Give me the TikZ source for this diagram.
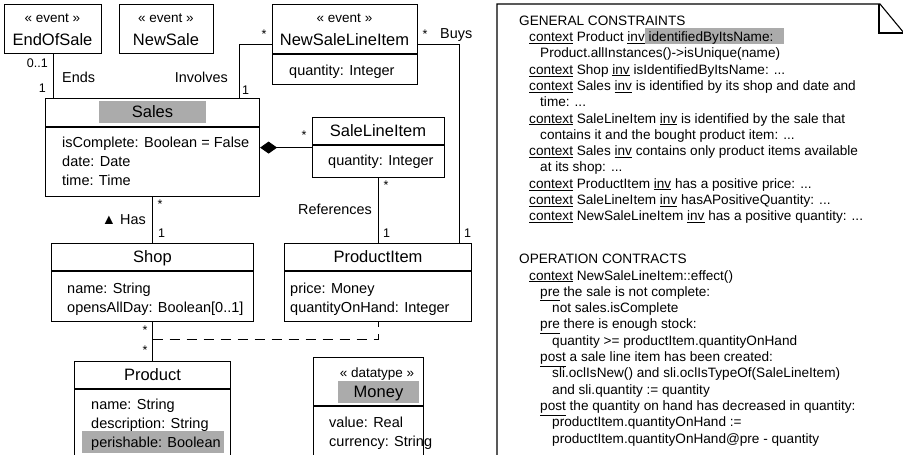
\documentclass[tikz,border=0pt]{standalone}
\usepackage{fontspec}
\setmainfont{Liberation Sans}
\usetikzlibrary{positioning, arrows.meta, calc}
\definecolor{hlgray}{gray}{0.67}
\newcommand{\greyhl}[1]{{\setlength{\fboxsep}{0pt}\colorbox{hlgray}{\rule[-1.5pt]{0pt}{15pt}#1}}}

\begin{document}
\begin{tikzpicture}[
        x=1pt, y=-1pt,
        box/.style={draw, line width=1.1pt, inner sep=0pt},
        cname/.style={inner sep=0pt, text height=11.8pt, text depth=0pt, font=\fontsize{16.5}{18}\selectfont},
        stereo/.style={inner sep=0pt, text height=9.7pt, text depth=0pt, font=\fontsize{13.5}{15}\selectfont},
        hilite/.style={fill=hlgray},
        attrs/.style={inner sep=0pt, anchor=north west, align=left, font=\fontsize{14.5}{18.8}\selectfont},
        lbl/.style={inner sep=0pt, text height=10.3pt, text depth=0pt, font=\fontsize{14.4}{16}\selectfont},
        mult/.style={inner sep=0pt, text height=8.9pt, text depth=0pt, font=\fontsize{12.5}{14}\selectfont},
        assoc/.style={line width=1pt},
        notetext/.style={inner sep=0pt, anchor=north west, align=left, font=\fontsize{13.6}{16.3}\selectfont}
    ]
        \useasboundingbox (0,0) rectangle (903,455);
        \clip (0,0) rectangle (903,455);

        % Events
        \node (endOfSale) [box, minimum width=97pt, minimum height=49pt, anchor=north west] at (4,4) {};
        \node (endOfSaleSt) [stereo] at (52.5,18) {« event »};
        \node (endOfSaleName) [cname] at (52.5,40) {EndOfSale};

        \node (newSale) [box, minimum width=94pt, minimum height=49pt, anchor=north west] at (119,4) {};
        \node (newSaleSt) [stereo] at (166,18) {« event »};
        \node (newSaleName) [cname] at (166,40) {NewSale};

        \node (newLineHead) [box, minimum width=145pt, minimum height=49pt, anchor=north west] at (272,4) {};
        \node (newLineBody) [box, minimum width=145pt, minimum height=30pt, below=0pt of newLineHead] {};
        \node (newLineSt) [stereo] at (344.5,18) {« event »};
        \node (newLineName) [cname] at (344.5,40) {NewSaleLineItem};
        \node (newLineAttrs) [attrs] at (289,64.8) {quantity: Integer};

        % Classes
        \node (salesHead) [box, minimum width=214pt, minimum height=28pt, anchor=north west] at (45,98) {};
        \node (salesBody) [box, minimum width=214pt, minimum height=69pt, below=0pt of salesHead] {};
        \node (salesName) [cname, hilite, minimum width=107pt, minimum height=22pt] at (152.5,111.5) {Sales};
        \node (salesAttrs) [attrs] at (62,136.8) {isComplete: Boolean = False\\date: Date\\time: Time};

        \node (saleLineHead) [box, minimum width=132pt, minimum height=27pt, anchor=north west] at (312,117) {};
        \node (saleLineBody) [box, minimum width=132pt, minimum height=32pt, below=0pt of saleLineHead] {};
        \node (saleLineName) [cname] at (378,131) {SaleLineItem};
        \node (saleLineAttrs) [attrs] at (328,154.8) {quantity: Integer};

        \node (shopHead) [box, minimum width=202pt, minimum height=27pt, anchor=north west] at (51,243) {};
        \node (shopBody) [box, minimum width=202pt, minimum height=50pt, below=0pt of shopHead] {};
        \node (shopName) [cname] at (152.5,257) {Shop};
        \node (shopAttrs) [attrs] at (67,282.8) {name: String\\opensAllDay: Boolean[0..1]};

        \node (prodItemHead) [box, minimum width=187pt, minimum height=27pt, anchor=north west] at (284,243) {};
        \node (prodItemBody) [box, minimum width=187pt, minimum height=50pt, below=0pt of prodItemHead] {};
        \node (prodItemName) [cname] at (378,257) {ProductItem};
        \node (prodItemAttrs) [attrs] at (290,282.8) {price: Money\\quantityOnHand: Integer};

        \node (productHead) [box, minimum width=156pt, minimum height=27pt, anchor=north west] at (74,361) {};
        \node (productBody) [box, minimum width=156pt, minimum height=70pt, below=0pt of productHead] {};
        \node (productName) [cname] at (152.5,375) {Product};
        \fill[hlgray] (82,431) rectangle (224,453);
        \node (productAttrs) [attrs] at (91,398.8) {name: String\\description: String\\perishable: Boolean};

        \node (moneyHead) [box, minimum width=110pt, minimum height=48pt, anchor=north west] at (313,357) {};
        \node (moneyBody) [box, minimum width=110pt, minimum height=53pt, below=0pt of moneyHead] {};
        \node (moneySt) [stereo] at (377,373) {« datatype »};
        \node (moneyName) [cname, hilite, minimum width=81pt, minimum height=22pt] at (378.5,392) {Money};
        \node (moneyAttrs) [attrs] at (329,416.8) {value: Real\\currency: String};

        % Associations
        \coordinate (newLineW) at ($(newLineHead.north west)!0.5!(newLineBody.south west)$);
        \coordinate (newLineE) at ($(newLineHead.north east)!0.5!(newLineBody.south east)$);
        \coordinate (saleLineW) at ($(saleLineHead.north west)!0.5!(saleLineBody.south west)$);
        \coordinate (invFoot) at ($(salesHead.north east)+(-21,0)$);
        \coordinate (buysFoot) at ($(prodItemHead.north east)+(-13,0)$);
        \coordinate (linkMid) at ($(shopBody.south)!0.44!(productHead.north)$);

        \draw [assoc] (endOfSale.south) -- (endOfSale.south |- salesHead.north);
        \draw [assoc] (invFoot) |- (newLineW);
        \draw [assoc] (newLineE) -| (buysFoot);
        \draw [assoc, {Diamond[length=17pt, width=12pt]}-] (saleLineW -| salesBody.east) -- (saleLineW);
        \draw [assoc] (salesBody.south) -- (shopHead.north);
        \draw [assoc] (saleLineBody.south) -- (saleLineBody.south |- prodItemHead.north);
        \draw [assoc] (shopBody.south) -- (productHead.north);
        \draw [assoc, dash pattern=on 10pt off 7pt] (linkMid) -| (prodItemBody.south);

        % Roles and multiplicities
        \node (multEndsTop) [mult, anchor=east] at (48,63) {0..1};
        \node (lblEnds) [lbl, anchor=west] at (62,77) {Ends};
        \node (multEndsBot) [mult, anchor=east] at (46,88) {1};
        \node (lblInvolves) [lbl, anchor=east] at (228,77) {Involves};
        \node (multInvSales) [mult, anchor=west] at (242,90) {1};
        \node (multInvLine) [mult] at (264,34.5) {*};
        \node (multBuysLine) [mult] at (425,34.5) {*};
        \node (lblBuys) [lbl, anchor=west] at (440,33) {Buys};
        \node (multBuysItem) [mult, anchor=west] at (464,233) {1};
        \node (multCompo) [mult] at (304,135.5) {*};
        \node (multHasSales) [mult] at (160,204.5) {*};
        \node (multHasShop) [mult, anchor=west] at (158,233) {1};
        \node (lblHas) [lbl, anchor=east] at (146,219) {▲ Has};
        \node (multRefLine) [mult] at (386,185.5) {*};
        \node (lblRefs) [lbl, anchor=east] at (372,209) {References};
        \node (multRefItem) [mult, anchor=west] at (383,233) {1};
        \node (multShopTop) [mult] at (145,330.5) {*};
        \node (multShopBot) [mult] at (145,350.5) {*};

        % OCL note
        \draw [line width=1.1pt] (497,470) -- (497,4) -- (880,4) -- (904,33) -- (904,470);
        \draw [line width=1.1pt] (879,4) -- (879,33) -- (904,33);
        \node (genCons) [notetext] at (519,15.6) {GENERAL CONSTRAINTS\\
            \hspace*{10pt}\underline{context} Product \underline{inv}\greyhl{ identifiedByItsName:\hspace{11pt}}\\
            \hspace*{21pt}Product.allInstances()->isUnique(name)\\
            \hspace*{10pt}\underline{context} Shop \underline{inv} isIdentifiedByItsName: ...\\
            \hspace*{10pt}\underline{context} Sales \underline{inv} is identified by its shop and date and\\
            \hspace*{21pt}time: ...\\
            \hspace*{10pt}\underline{context} SaleLineItem \underline{inv} is identified by the sale that\\
            \hspace*{21pt}contains it and the bought product item: ...\\
            \hspace*{10pt}\underline{context} Sales \underline{inv} contains only product items available\\
            \hspace*{21pt}at its shop: ...\\
            \hspace*{10pt}\underline{context} ProductItem \underline{inv} has a positive price: ...\\
            \hspace*{10pt}\underline{context} SaleLineItem \underline{inv} hasAPositiveQuantity: ...\\
            \hspace*{10pt}\underline{context} NewSaleLineItem \underline{inv} has a positive quantity: ...};
        \node (opContracts) [notetext] at (519,254.1) {OPERATION CONTRACTS\\
            \hspace*{10pt}\underline{context} NewSaleLineItem::effect()\\
            \hspace*{21pt}\underline{pre} the sale is not complete:\\
            \hspace*{33pt}not sales.isComplete\\
            \hspace*{21pt}\underline{pre} there is enough stock:\\
            \hspace*{33pt}quantity >= productItem.quantityOnHand\\
            \hspace*{21pt}\underline{post} a sale line item has been created:\\
            \hspace*{33pt}sli.oclIsNew() and sli.oclIsTypeOf(SaleLineItem)\\
            \hspace*{33pt}and sli.quantity := quantity\\
            \hspace*{21pt}\underline{post} the quantity on hand has decreased in quantity:\\
            \hspace*{33pt}productItem.quantityOnHand :=\\
            \hspace*{33pt}productItem.quantityOnHand@pre - quantity};
    \end{tikzpicture}
\end{document}
